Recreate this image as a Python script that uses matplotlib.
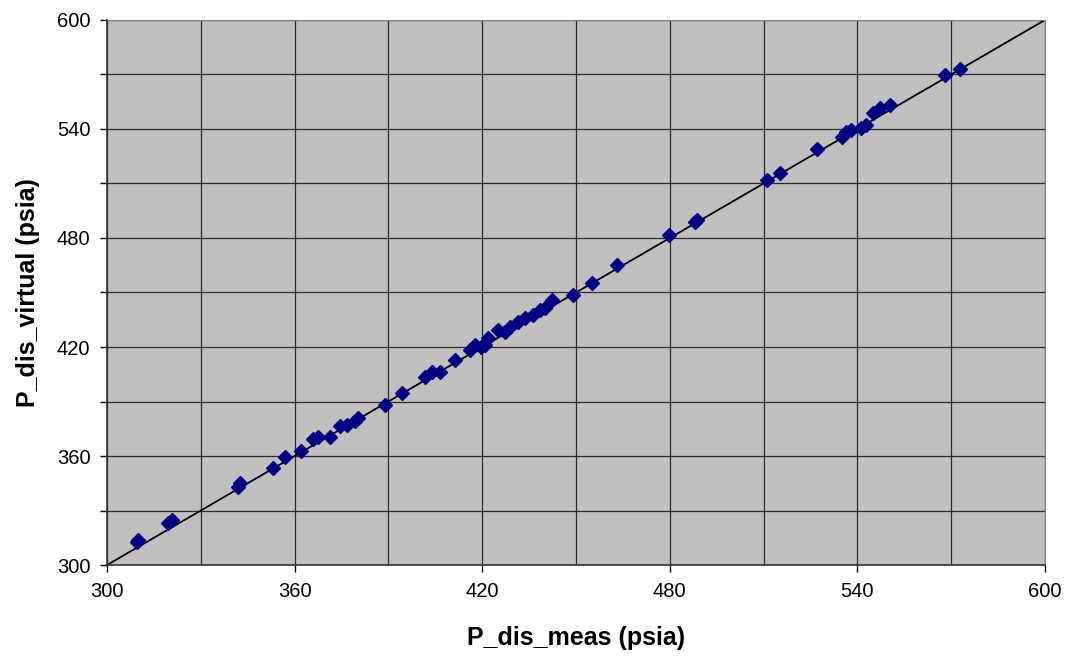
import matplotlib.pyplot as plt
from matplotlib.ticker import MultipleLocator

# measured vs virtual discharge pressure (psia)
p_meas = [309.5, 310.0, 319.6, 320.7, 342.0, 342.5, 353.2, 356.9, 362.2, 366.0,
          367.6, 371.3, 374.5, 376.7, 379.3, 380.4, 388.9, 394.2, 401.7, 403.8,
          406.5, 411.3, 416.1, 417.7, 419.5, 420.9, 421.9, 425.1, 427.3, 428.9,
          431.5, 433.7, 436.3, 438.5, 440.1, 442.2, 449.1, 455.0, 463.0, 479.8,
          488.0, 488.6, 511.0, 515.2, 527.1, 535.0, 536.5, 538.1, 541.3, 542.9,
          545.1, 547.2, 550.4, 568.0, 572.8]
p_virt = [312.8, 313.5, 323.0, 324.8, 343.1, 345.3, 353.6, 359.6, 362.9, 369.2,
          370.6, 370.3, 376.5, 377.0, 379.4, 380.7, 388.0, 394.5, 403.6, 406.4,
          406.4, 412.8, 418.3, 421.0, 420.1, 421.1, 424.8, 429.3, 428.4, 431.2,
          433.9, 435.8, 437.6, 440.3, 441.3, 445.8, 448.6, 455.0, 465.1, 481.6,
          489.0, 489.9, 511.9, 515.6, 528.9, 535.7, 538.5, 539.4, 540.3, 542.2,
          548.6, 551.3, 553.2, 569.7, 572.8]
ideal = [300, 600]

plt.rcParams['font.family'] = ['Liberation Sans', 'DejaVu Sans']

fig = plt.figure(figsize=(10.66, 6.57), dpi=100, facecolor='w')
ax = fig.add_axes([0.1004, 0.140, 0.8799, 0.8296])
ax.set_facecolor('#c0c0c0')

ax.plot(ideal, ideal, color='k', lw=1.3, zorder=2)
ax.plot(p_meas, p_virt, ls='none', marker='D', ms=7.5, color='#000080',
        mec='#000080', zorder=3)

ax.set_xlim(300, 600)
ax.set_ylim(300, 600)
ax.xaxis.set_major_locator(MultipleLocator(60))
ax.yaxis.set_major_locator(MultipleLocator(60))
ax.xaxis.set_minor_locator(MultipleLocator(30))
ax.yaxis.set_minor_locator(MultipleLocator(30))
ax.grid(True, which='both', color='#2a2a2a', lw=0.9, zorder=1)
ax.set_axisbelow(True)

ax.tick_params(which='major', direction='out', length=5, width=1, labelsize=14.5, pad=7)
ax.tick_params(which='minor', direction='out', length=0)
ax.tick_params(axis='y', which='minor', length=5, width=1)

for side in ['top', 'right']:
    ax.spines[side].set_color('#808080')
for side in ['left', 'bottom']:
    ax.spines[side].set_color('#333333')
    ax.spines[side].set_linewidth(1.2)

ax.set_xlabel('P_dis_meas (psia)', fontsize=18, fontweight='bold', labelpad=18)
ax.set_ylabel('P_dis_virtual (psia)', fontsize=18, fontweight='bold', labelpad=12)

fig.savefig('out.png', dpi=100)
